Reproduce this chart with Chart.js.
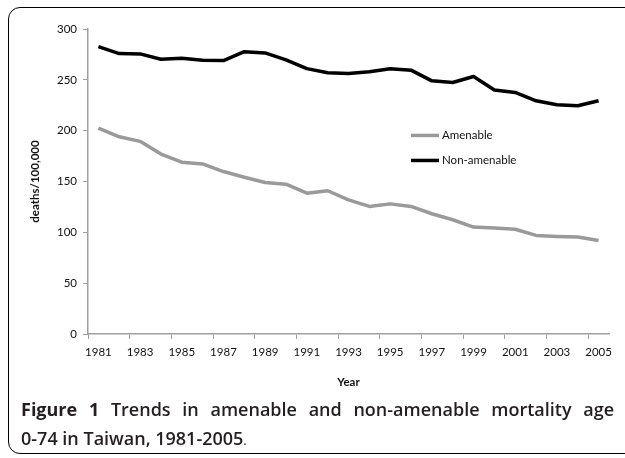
<!DOCTYPE html>
<html>
<head>
<meta charset="utf-8">
<title>Amenable and non-amenable mortality, Taiwan 1981-2005</title>
<script src="https://cdn.jsdelivr.net/npm/chart.js@4.4.1/dist/chart.umd.min.js"></script>
<style>
    html, body { margin: 0; padding: 0; background: #fff; overflow: hidden; }
    #frame {
        position: absolute; left: 8px; top: 7px; width: 700px; height: 445px;
        border: 1.5px solid #000; border-radius: 12px;
    }
    #chart-box { position: absolute; left: 0; top: 0; width: 625px; height: 400px; }
    .caption {
        position: absolute; left: 21px; width: 593px;
        font-family: "Open Sans", sans-serif; font-size: 18px; font-weight: 600;
        line-height: 29px; color: #231f20; white-space: nowrap;
    }
    #cap1 { top: 395px; text-align: justify; text-align-last: justify; white-space: normal; }
    #cap2 { top: 424px; }
    .caption b { font-weight: 700; }
    .caption .dot { font-weight: 400; font-size: 13px; }
</style>
</head>
<body>
<div id="frame"></div>
<div id="chart-box"><canvas id="mortalityChart"></canvas></div>
<div class="caption" id="cap1"><b>Figure 1</b> Trends in amenable and non-amenable mortality age</div>
<div class="caption" id="cap2">0-74 in Taiwan, 1981-2005<span class="dot">.</span></div>

<script>
const years = [1981, 1982, 1983, 1984, 1985, 1986, 1987, 1988, 1989, 1990, 1991, 1992, 1993,
               1994, 1995, 1996, 1997, 1998, 1999, 2000, 2001, 2002, 2003, 2004, 2005];
const amenable = [202.5, 194, 189.5, 177, 169, 167.3, 159.8, 154.2, 149, 147.4, 138.5, 140.9, 132,
                  125.5, 128, 125.5, 118.3, 112.4, 105.2, 104.2, 103, 97, 96, 95.4, 92];
const nonAmenable = [282.6, 275.8, 275.5, 270.3, 271.3, 269.3, 269, 277.7, 276.5, 269.6, 261, 257, 256.2,
                     258, 261, 259.5, 249, 247.4, 253.3, 240, 237.6, 229.4, 225.5, 224.5, 229.4];
const seriesNames = ['Amenable', 'Non-amenable'];
const seriesColors = ['#9a9a9a', '#000000'];

const chartFont = 'Lato';
const axisGray = '#a0a0a0';

// legend sits inside the plot area in the original, so draw it by hand
const insideLegend = {
    id: 'insideLegend',
    afterDraw(chart) {
        const { ctx, chartArea } = chart;
        const w = chartArea.right - chartArea.left;
        const h = chartArea.bottom - chartArea.top;
        const x = chartArea.left + w * 0.62;
        ctx.save();
        ctx.font = '11.5px ' + chartFont;
        ctx.textBaseline = 'middle';
        ctx.lineWidth = 3.5;
        seriesNames.forEach((name, i) => {
            const y = chartArea.top + h * (0.349 + i * 0.082);
            ctx.strokeStyle = seriesColors[i];
            ctx.beginPath();
            ctx.moveTo(x, y);
            ctx.lineTo(x + 28, y);
            ctx.stroke();
            ctx.fillStyle = '#111';
            ctx.fillText(name, x + 31, y);
        });
        ctx.restore();
    }
};

const ctx = document.getElementById('mortalityChart').getContext('2d');
const mortalityChart = new Chart(ctx, {
    type: 'line',
    data: {
        labels: years,
        datasets: [
            {
                label: seriesNames[0],
                data: amenable,
                borderColor: seriesColors[0],
                borderWidth: 3.5,
                pointRadius: 0,
                tension: 0,
                borderJoinStyle: 'round'
            },
            {
                label: seriesNames[1],
                data: nonAmenable,
                borderColor: seriesColors[1],
                borderWidth: 3.5,
                pointRadius: 0,
                tension: 0,
                borderJoinStyle: 'round'
            }
        ]
    },
    options: {
        responsive: true,
        maintainAspectRatio: false,
        animation: false,
        layout: { padding: { top: 29, left: 0, right: 16, bottom: 0 } },
        plugins: {
            legend: { display: false },
            tooltip: { enabled: false }
        },
        scales: {
            x: {
                offset: true,
                grid: {
                    offset: true,
                    drawOnChartArea: false,
                    tickLength: 5,
                    tickColor: c => (c.index % 2 === 0 ? axisGray : 'rgba(0,0,0,0)')
                },
                border: { color: axisGray, width: 1.5 },
                ticks: {
                    autoSkip: false,
                    maxRotation: 0,
                    padding: 6,
                    color: '#111',
                    font: { family: chartFont, size: 11.5 },
                    callback: function (value, index) {
                        return index % 2 === 0 ? this.getLabelForValue(value) : '';
                    }
                },
                title: {
                    display: true,
                    text: 'Year',
                    color: '#111',
                    font: { family: chartFont, size: 11.5, weight: 'bold' },
                    padding: { top: 0, bottom: 11 }
                },
                afterFit: scale => { scale.height = 66; }
            },
            y: {
                min: 0,
                max: 300,
                ticks: {
                    stepSize: 50,
                    padding: 6,
                    color: '#111',
                    font: { family: chartFont, size: 11.5 }
                },
                grid: {
                    drawOnChartArea: false,
                    tickLength: 5,
                    color: axisGray
                },
                border: { color: axisGray, width: 1.5 },
                title: {
                    display: true,
                    text: 'deaths/100,000',
                    color: '#111',
                    font: { family: chartFont, size: 11.5, weight: 'bold' },
                    padding: { top: 28, bottom: 0 }
                },
                afterFit: scale => { scale.width = 88; }
            }
        }
    },
    plugins: [insideLegend]
});
</script>
</body>
</html>
